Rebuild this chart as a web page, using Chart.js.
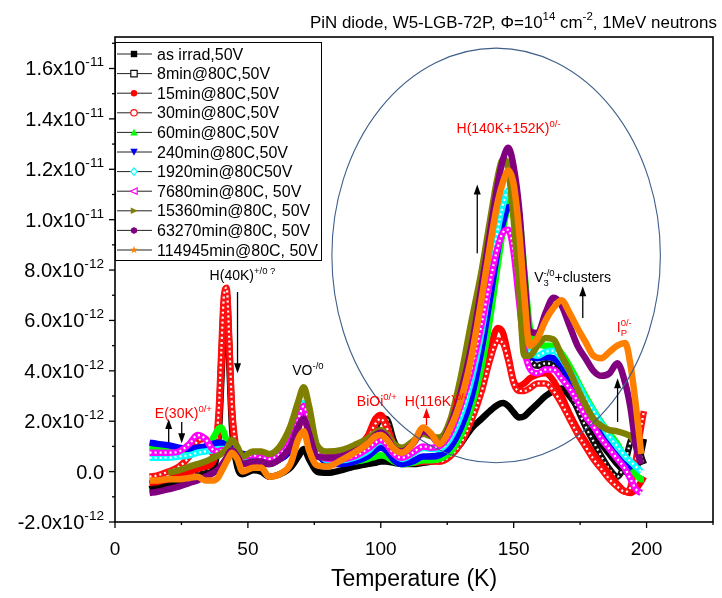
<!DOCTYPE html>
<html>
<head>
<meta charset="utf-8">
<script src="https://cdn.jsdelivr.net/npm/chart.js@4.4.0/dist/chart.umd.min.js"></script>
<style>
body{margin:0;background:#fff}
#caja{width:722px;height:598px}
</style>
</head>
<body>
<div id="caja"><canvas id="grafico" width="722" height="598"></canvas></div>
<script>
// temperaturas (K), valores en unidades de 1e-12
const temps=[13,16,20,24,28,31,34,37,39,40,41,42,43,44,46,48,52,55,58,62,66,69,71,73,76,80,85,90,95,98,100,102,105,108,112,116,119,122,126,130,134,138,141,144,146,148,150,152,154,156,159,162,165,168,171,174,177,180,183,186,189,192,194,196,198,199];

const nombres=["as irrad,50V","8min@80C,50V","15min@80C,50V","30min@80C,50V","60min@80C,50V","240min@80C,50V","1920min@80C50V","7680min@80C, 50V","15360min@80C, 50V","63270min@80C, 50V","114945min@80C, 50V"];

const asIrrad=[-0.7,-0.6,-0.5,-0.4,-0.3,-0.2,-0.1,0.1,1.4,3.6,
6.0,6.5,4.3,1.8,0.2,-0.1,0.05,0.0,-0.2,-0.1,
0.15,0.6,0.9,0.5,0.0,-0.05,0.05,0.2,0.3,0.35,
0.4,0.4,0.35,0.3,0.3,0.35,0.4,0.45,0.65,1.1,
1.7,2.1,2.4,2.65,2.72,2.6,2.35,2.15,2.2,2.4,
2.7,3.0,3.2,3.3,3.0,2.55,2.0,1.55,1.1,0.7,
0.3,0.0,-0.1,0.1,0.8,1.3];

const min8=[-0.5,-0.45,-0.35,-0.25,-0.1,0.0,0.1,0.3,2.0,4.4,
6.7,7.1,5.0,2.4,0.6,0.3,0.4,0.3,0.3,0.5,
0.9,1.9,2.6,1.8,0.8,0.5,0.5,0.7,1.1,1.7,
2.1,2.1,1.2,0.6,0.45,0.55,0.6,0.65,0.95,1.6,
2.8,4.7,6.6,8.6,9.8,10.7,10.6,9.2,6.6,4.6,
4.2,4.3,4.2,3.8,3.2,2.5,1.8,1.2,0.6,0.1,
-0.2,0.4,1.2,1.6,0.6,0.3];

const min15=[-0.45,-0.4,-0.3,-0.15,0.0,0.1,0.2,0.4,1.8,4.0,
6.3,6.8,4.7,2.2,0.6,0.3,0.3,0.3,0.4,0.5,
0.9,1.7,2.4,1.7,0.8,0.6,0.7,0.9,1.4,2.1,
2.25,1.9,1.0,0.5,0.35,0.4,0.45,0.4,0.6,1.2,
2.2,3.5,4.8,5.7,5.5,4.6,3.6,3.4,3.5,3.7,
3.85,3.9,3.6,3.0,2.3,1.7,1.2,0.7,0.3,-0.1,
-0.5,-0.8,-0.85,-0.7,-0.4,-0.2];

const min30=[-0.2,-0.15,0.0,0.2,0.6,1.2,1.3,0.7,2.4,4.8,
7.0,7.3,5.2,2.6,0.7,0.3,0.35,0.3,0.4,0.5,
0.9,1.8,2.5,1.8,0.8,0.6,0.7,0.9,1.3,1.9,
2.1,1.8,1.0,0.5,0.35,0.4,0.4,0.4,0.6,1.1,
2.0,3.2,4.4,5.2,5.1,4.4,3.5,3.2,3.2,3.3,
3.5,3.5,3.2,2.7,2.1,1.5,1.0,0.5,0.1,-0.3,
-0.6,-0.8,-0.6,0.5,1.8,2.4];

const min60=[1.0,0.95,0.85,0.8,0.8,0.85,0.95,1.35,1.7,1.75,
1.55,1.2,0.95,0.85,0.7,0.55,0.6,0.5,0.4,0.5,
1.0,2.0,2.85,2.2,1.0,0.45,0.35,0.4,0.5,0.6,
0.65,0.6,0.4,0.3,0.35,0.45,0.45,0.5,0.75,1.4,
2.5,4.2,6.0,8.2,9.6,10.6,11.0,10.3,8.0,5.8,
5.1,5.0,5.0,4.7,4.2,3.6,3.0,2.45,1.95,1.5,
1.1,0.5,0.15,-0.1,-0.3,-0.3];

const min240=[1.15,1.1,1.05,0.95,0.9,0.95,1.0,1.1,1.15,1.15,
1.1,1.0,0.95,0.9,0.8,0.7,0.65,0.55,0.45,0.5,
0.9,1.8,2.3,1.7,0.8,0.35,0.3,0.4,0.6,0.85,
0.95,0.85,0.45,0.3,0.4,0.6,0.6,0.65,0.95,1.7,
2.9,4.9,6.8,8.8,9.9,10.5,10.3,9.0,6.5,4.6,
4.5,4.55,4.5,4.2,3.7,3.2,2.7,2.1,1.6,1.0,
0.6,0.3,0.05,null,null,null];

const min1920=[0.55,0.55,0.55,0.6,0.65,0.75,0.8,0.85,0.9,0.9,
0.9,0.85,0.85,0.85,0.8,0.6,0.6,0.55,0.5,0.7,
1.2,2.3,2.95,2.3,1.0,0.45,0.45,0.55,0.8,1.1,
1.2,1.1,0.7,0.5,0.7,0.95,0.9,0.9,1.3,2.2,
3.6,5.6,7.6,9.6,10.6,11.15,10.9,9.3,6.8,4.8,
4.6,4.75,4.8,4.5,4.0,3.5,2.9,2.4,1.9,1.4,
1.0,0.6,0.4,0.2,0.0,null];

const min7680=[0.75,0.75,0.75,0.8,1.1,1.45,1.3,0.85,0.8,0.85,
0.85,0.8,0.78,0.75,0.7,0.6,0.65,0.55,0.5,0.7,
1.2,2.1,2.6,2.0,0.9,0.5,0.5,0.6,0.9,1.15,
1.25,1.1,0.7,0.55,0.75,1.0,0.95,1.0,1.5,2.6,
4.0,5.9,7.5,8.9,9.5,9.6,8.7,6.8,4.9,4.1,
3.9,4.05,4.05,3.7,3.3,2.8,2.2,1.8,1.3,0.9,
0.5,0.1,-0.3,-0.7,-0.85,null];

const min15360=[null,null,-0.05,0.05,0.2,0.3,0.4,0.55,0.65,0.7,
0.8,0.9,1.1,1.25,1.0,0.6,0.8,0.8,0.7,1.0,
1.8,2.8,3.35,2.6,1.05,0.8,0.85,1.05,1.3,1.55,
1.65,1.5,1.1,0.95,1.2,1.5,1.4,1.35,2.0,3.7,
5.9,8.0,9.9,11.7,12.4,12.0,10.0,7.4,4.6,4.6,
5.0,5.3,5.25,4.6,4.0,3.3,2.65,2.1,1.8,1.65,
1.6,1.5,1.4,1.1,0.7,null];

const min63270=[-0.85,-0.8,-0.7,-0.6,-0.45,-0.35,-0.2,-0.05,0.1,0.25,
0.4,0.55,0.75,0.85,0.6,0.3,0.4,0.4,0.3,0.5,
1.0,1.8,2.1,1.5,0.6,0.55,0.6,0.8,1.1,1.45,
1.55,1.4,0.9,0.8,1.1,1.6,1.45,1.1,1.8,3.1,
4.9,7.4,9.4,11.4,12.4,12.85,12.1,10.5,7.8,5.6,
5.5,6.3,6.9,6.6,5.8,5.0,4.5,4.0,3.8,3.9,
4.3,3.5,2.5,1.0,0.3,null];

const min114945=[-0.35,-0.35,-0.3,-0.3,-0.25,-0.2,-0.35,-0.35,-0.2,0.0,
0.2,0.4,0.6,0.75,0.5,0.0,0.15,0.15,-0.2,-0.1,
0.3,1.3,1.6,0.85,0.25,0.2,0.45,0.75,1.1,1.4,
1.45,1.3,0.9,0.75,1.1,1.75,1.5,1.1,1.7,2.8,
4.5,6.9,8.9,10.7,11.5,11.95,11.4,9.6,7.0,5.0,
5.3,6.0,6.5,6.8,6.3,5.7,5.15,4.6,4.5,4.75,
5.0,5.1,4.2,2.6,0.7,null];

const xTicks=[0,50,100,150,200];
const yTicks=[-2,0,2,4,6,8,10,12,14,16];

const series=[asIrrad,min8,min15,min30,min60,min240,min1920,min7680,min15360,min63270,min114945];
const colores=["#000000","#111111","#ff0000","#ff1010","#00ff00","#0000ff","#00ffff","#ff00ff","#808000","#800080","#ff8000"];
const marcas=["sq","sqo","ci","cio","tu","td","dmo","tlo","tr","hex","star"];

const FUENTE="'Liberation Sans', Arial, sans-serif";

const notas=[
 {t:[["H(40K)",0],["+/0 ?",1]],x:35.6,y:7.6,c:"#000"},
 {t:[["VO",0],["-/0",1]],x:66.7,y:3.83,c:"#000"},
 {t:[["E(30K)",0],["0/+",1]],x:15,y:2.13,c:"#ff0000"},
 {t:[["BiOi",0],["0/+",1]],x:91,y:2.6,c:"#ff0000"},
 {t:[["H(116K)",0],["0/-",1]],x:109,y:2.6,c:"#ff0000"},
 {t:[["H(140K+152K)",0],["0/-",1]],x:128.5,y:13.43,c:"#ff0000"},
 {t:[["V",0],["3",2,1],["-/0",1],["+clusters",0]],x:157.7,y:7.52,c:"#000"},
 {t:[["I",0],["P",2,1],["0/-",1]],x:188.8,y:5.54,c:"#ff0000"}
];

const flechas=[
 [46.1,7.13,46.1,3.9,"#000"],
 [20.2,1.17,20.2,2.09,"#000"],
 [25.1,1.97,25.1,1.13,"#000"],
 [117.2,1.85,117.2,2.52,"#ff0000"],
 [136.3,8.67,136.3,11.4,"#000"],
 [176,6.1,176,7.36,"#000"],
 [189.1,1.97,189.1,3.71,"#000"]
];

function rico(ctx,x,y,partes,size,color){
 ctx.fillStyle=color;
 ctx.textAlign="left";
 ctx.textBaseline="alphabetic";
 partes.forEach(p=>{
  let t=p[0],k=p[1],quieto=p[2];
  let s=k?size*0.68:size;
  ctx.font=s+"px "+FUENTE;
  let dy=k===1?-size*0.45:(k===2?size*0.3:0);
  ctx.fillText(t,x,y+dy);
  if(!quieto) x+=ctx.measureText(t).width;
 });
 return x;
}

function anchoRico(ctx,partes,size){
 let w=0;
 partes.forEach(p=>{
  ctx.font=(p[1]?size*0.68:size)+"px "+FUENTE;
  if(!p[2]) w+=ctx.measureText(p[0]).width;
 });
 return w;
}

function flecha(ctx,x1,y1,x2,y2,color){
 let a=Math.atan2(y2-y1,x2-x1),L=10,W=3.5;
 ctx.strokeStyle=color;
 ctx.lineWidth=1.3;
 ctx.beginPath();
 ctx.moveTo(x1,y1);
 ctx.lineTo(x2-L*0.8*Math.cos(a),y2-L*0.8*Math.sin(a));
 ctx.stroke();
 ctx.fillStyle=color;
 ctx.beginPath();
 ctx.moveTo(x2,y2);
 ctx.lineTo(x2-L*Math.cos(a)+W*Math.sin(a),y2-L*Math.sin(a)-W*Math.cos(a));
 ctx.lineTo(x2-L*Math.cos(a)-W*Math.sin(a),y2-L*Math.sin(a)+W*Math.cos(a));
 ctx.closePath();
 ctx.fill();
}

function marca(ctx,tipo,x,y,color){
 let r=3.2;
 ctx.lineWidth=1.2;
 ctx.strokeStyle=color;
 ctx.fillStyle=color;
 ctx.beginPath();
 if(tipo=="sq"||tipo=="sqo"){ctx.rect(x-r,y-r,2*r,2*r);}
 else if(tipo=="ci"||tipo=="cio"){ctx.arc(x,y,r,0,Math.PI*2);}
 else if(tipo=="tu"){ctx.moveTo(x,y-r-0.5);ctx.lineTo(x+r+0.5,y+r);ctx.lineTo(x-r-0.5,y+r);ctx.closePath();}
 else if(tipo=="td"){ctx.moveTo(x,y+r+0.5);ctx.lineTo(x+r+0.5,y-r);ctx.lineTo(x-r-0.5,y-r);ctx.closePath();}
 else if(tipo=="dmo"){ctx.moveTo(x,y-r-0.5);ctx.lineTo(x+r,y);ctx.lineTo(x,y+r+0.5);ctx.lineTo(x-r,y);ctx.closePath();}
 else if(tipo=="tlo"){ctx.moveTo(x-r-0.5,y);ctx.lineTo(x+r,y-r);ctx.lineTo(x+r,y+r);ctx.closePath();}
 else if(tipo=="tr"){ctx.moveTo(x+r+0.5,y);ctx.lineTo(x-r,y-r);ctx.lineTo(x-r,y+r);ctx.closePath();}
 else if(tipo=="hex"){for(let k=0;k<6;k++){let a=Math.PI/6+k*Math.PI/3;ctx.lineTo(x+r*1.1*Math.cos(a),y+r*1.1*Math.sin(a));}ctx.closePath();}
 else if(tipo=="star"){for(let k=0;k<10;k++){let a=-Math.PI/2+k*Math.PI/5,rr=k%2?r*0.5:r*1.3;ctx.lineTo(x+rr*Math.cos(a),y+rr*Math.sin(a));}ctx.closePath();}
 if(tipo.endsWith("o")){ctx.fillStyle="#fff";ctx.fill();ctx.stroke();}
 else{ctx.fill();}
}

function etiquetaY(v){
 if(v===0) return [["0.0",0]];
 if(Math.abs(v)>=10) return [[(v/10).toFixed(1)+"x10",0],["-11",1]];
 return [[v.toFixed(1)+"x10",0],["-12",1]];
}

const extras={
 id:"extras",
 afterDatasetDraw(chart,args){
  // marcadores huecos: linea blanca punteada encima
  if(!marcas[args.index].endsWith("o")) return;
  const ctx=chart.ctx,a=chart.chartArea,el=args.meta.dataset;
  ctx.save();
  ctx.beginPath();
  ctx.rect(a.left,a.top,a.right-a.left,a.bottom-a.top);
  ctx.clip();
  ctx.beginPath();
  el.path(ctx);
  ctx.strokeStyle="#ffffff";
  ctx.lineWidth=2.2;
  ctx.setLineDash([2,3]);
  ctx.stroke();
  ctx.restore();
 },
 afterDatasetsDraw(chart){
  const ctx=chart.ctx,xs=chart.scales.x,ys=chart.scales.y,a=chart.chartArea;
  ctx.save();
  // marco
  ctx.strokeStyle="#000";
  ctx.lineWidth=1.6;
  ctx.strokeRect(a.left,a.top,a.right-a.left,a.bottom-a.top);
  // marcas de eje
  ctx.lineWidth=1.3;
  for(let t=0;t<=225;t+=25){
   let px=xs.getPixelForValue(t),l=t%50==0?6:3;
   ctx.beginPath();ctx.moveTo(px,a.bottom);ctx.lineTo(px,a.bottom+l);ctx.stroke();
  }
  for(let v=-2;v<=17;v+=1){
   let py=ys.getPixelForValue(v),l=v%2==0?6:3;
   ctx.beginPath();ctx.moveTo(a.left,py);ctx.lineTo(a.left-l,py);ctx.stroke();
  }
  // etiquetas del eje y
  yTicks.forEach(v=>{
   let py=ys.getPixelForValue(v);
   let partes=etiquetaY(v);
   let w=anchoRico(ctx,partes,20);
   rico(ctx,104-w,py+7,partes,20,"#000");
  });
  // elipse
  let cx=xs.getPixelForValue(143.4),cy=ys.getPixelForValue(8.58);
  let rx=xs.getPixelForValue(143.4+61.8)-cx,ry=cy-ys.getPixelForValue(8.58+8.23);
  ctx.strokeStyle="#3f5f8a";
  ctx.lineWidth=1.1;
  ctx.beginPath();
  ctx.ellipse(cx,cy,rx,ry,0,0,Math.PI*2);
  ctx.stroke();
  // flechas y textos
  flechas.forEach(f=>flecha(ctx,xs.getPixelForValue(f[0]),ys.getPixelForValue(f[1]),xs.getPixelForValue(f[2]),ys.getPixelForValue(f[3]),f[4]));
  notas.forEach(n=>rico(ctx,xs.getPixelForValue(n.x),ys.getPixelForValue(n.y),n.t,14,n.c));
  // leyenda
  ctx.fillStyle="#fff";
  ctx.fillRect(a.left,42,206,218);
  ctx.strokeStyle="#000";
  ctx.lineWidth=1;
  ctx.strokeRect(a.left+0.5,42.5,206,218);
  nombres.forEach((nm,i)=>{
   let y=54+i*19.6;
   ctx.strokeStyle="#222";
   ctx.lineWidth=1;
   ctx.beginPath();ctx.moveTo(117,y);ctx.lineTo(152,y);ctx.stroke();
   marca(ctx,marcas[i],134,y,colores[i]);
   ctx.fillStyle="#000";
   ctx.font="16px "+FUENTE;
   ctx.textAlign="left";
   ctx.textBaseline="alphabetic";
   ctx.fillText(nm,157,y+5.5);
  });
  // titulo
  let tit=[["PiN diode, W5-LGB-72P, Φ=10",0],["14",1],[" cm",0],["-2",1],[", 1MeV neutrons",0]];
  let w=anchoRico(ctx,tit,19);
  let s=19*407/w;
  rico(ctx,310,28,tit,s,"#000");
  ctx.restore();
 }
};

new Chart(document.getElementById("grafico"),{
 type:"line",
 data:{
  datasets:series.map((vals,i)=>({
   label:nombres[i],
   data:temps.map((t,k)=>({x:t,y:vals[k]})),
   borderColor:colores[i],
   backgroundColor:colores[i],
   borderWidth:6.5,
   pointRadius:0,
   fill:false,
   order:series.length-i,
   cubicInterpolationMode:"monotone"
  }))
 },
 options:{
  responsive:false,
  animation:false,
  devicePixelRatio:1,
  layout:{padding:{top:37,right:9,left:0,bottom:0}},
  plugins:{legend:{display:false},tooltip:{enabled:false}},
  scales:{
   x:{
    type:"linear",min:0,max:225,
    afterBuildTicks(s){s.ticks=xTicks.map(v=>({value:v}));},
    afterFit(s){s.height=76;},
    grid:{display:false,drawTicks:false},
    border:{display:false},
    ticks:{color:"#000",padding:16,font:{size:19,family:FUENTE},maxRotation:0},
    title:{display:true,text:"Temperature (K)",color:"#000",font:{size:23,family:FUENTE},padding:{top:0,bottom:5}}
   },
   y:{
    type:"linear",min:-2,max:17.25,
    afterBuildTicks(s){s.ticks=yTicks.map(v=>({value:v}));},
    afterFit(s){s.width=115;},
    grid:{display:false,drawTicks:false},
    border:{display:false},
    ticks:{display:false}
   }
  }
 },
 plugins:[extras]
});
</script>
</body>
</html>
